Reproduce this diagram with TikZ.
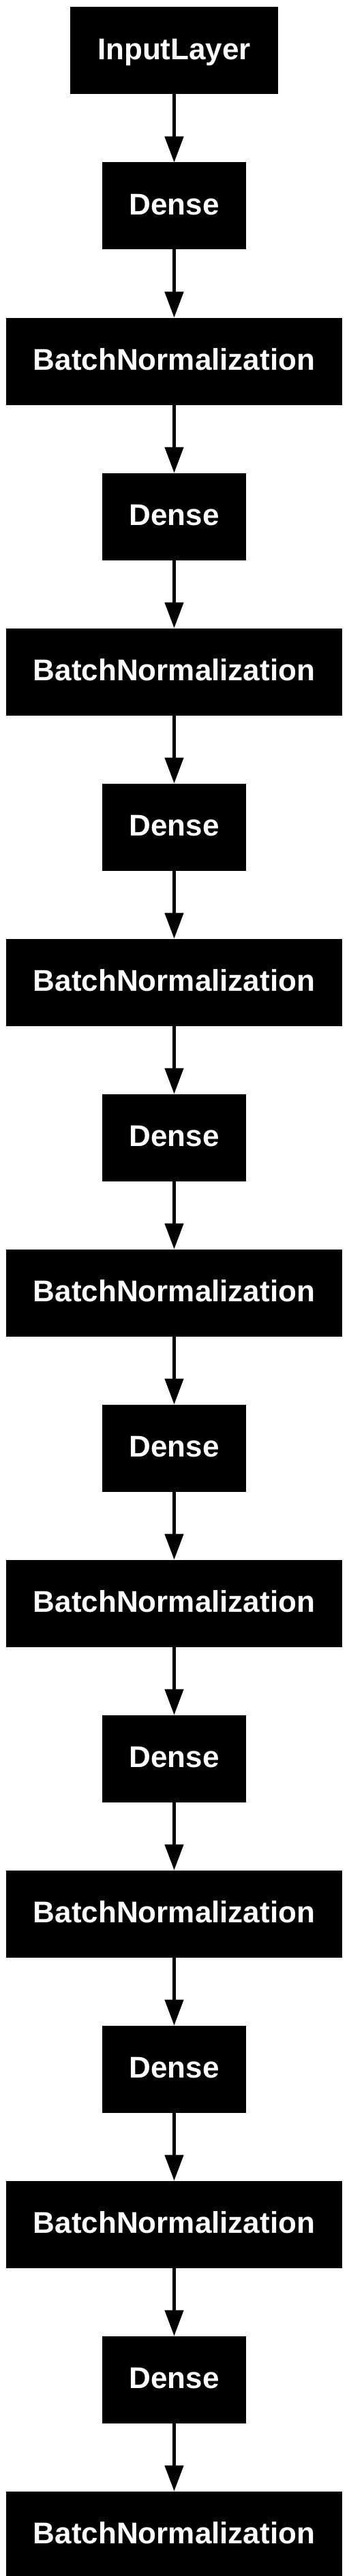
\documentclass[tikz,border=0pt]{standalone}
\usepackage{fontspec}
\setmainfont{Liberation Sans}
\usepackage{tikz}
\usetikzlibrary{positioning,arrows.meta}

\tikzset{
  layer/.style={draw=black,fill=black,text=white,inner sep=0pt,line width=0.5pt,
    minimum height=63.5pt,text height=15.75pt,text depth=2.5pt,
    font=\bfseries\fontsize{22pt}{26pt}\selectfont},
  flow/.style={line width=2.4pt,-{Triangle[length=19pt,width=13.5pt]}}
}

\begin{document}
\begin{tikzpicture}[node distance=50pt]
\useasboundingbox (-127.75pt,37.25pt) rectangle (127.75pt,-1854.25pt);
\node[layer,minimum width=151.5pt] (input) at (0,0) {InputLayer};
\node[layer,minimum width=104.5pt,below=of input] (dense1) {Dense};
\node[layer,minimum width=245.5pt,below=of dense1] (bn1) {BatchNormalization};
\node[layer,minimum width=104.5pt,below=of bn1] (dense2) {Dense};
\node[layer,minimum width=245.5pt,below=of dense2] (bn2) {BatchNormalization};
\node[layer,minimum width=104.5pt,below=of bn2] (dense3) {Dense};
\node[layer,minimum width=245.5pt,below=of dense3] (bn3) {BatchNormalization};
\node[layer,minimum width=104.5pt,below=of bn3] (dense4) {Dense};
\node[layer,minimum width=245.5pt,below=of dense4] (bn4) {BatchNormalization};
\node[layer,minimum width=104.5pt,below=of bn4] (dense5) {Dense};
\node[layer,minimum width=245.5pt,below=of dense5] (bn5) {BatchNormalization};
\node[layer,minimum width=104.5pt,below=of bn5] (dense6) {Dense};
\node[layer,minimum width=245.5pt,below=of dense6] (bn6) {BatchNormalization};
\node[layer,minimum width=104.5pt,below=of bn6] (dense7) {Dense};
\node[layer,minimum width=245.5pt,below=of dense7] (bn7) {BatchNormalization};
\node[layer,minimum width=104.5pt,below=of bn7] (dense8) {Dense};
\node[layer,minimum width=245.5pt,below=of dense8] (bn8) {BatchNormalization};
\draw[flow] (input) -- (dense1);
\draw[flow] (dense1) -- (bn1);
\draw[flow] (bn1) -- (dense2);
\draw[flow] (dense2) -- (bn2);
\draw[flow] (bn2) -- (dense3);
\draw[flow] (dense3) -- (bn3);
\draw[flow] (bn3) -- (dense4);
\draw[flow] (dense4) -- (bn4);
\draw[flow] (bn4) -- (dense5);
\draw[flow] (dense5) -- (bn5);
\draw[flow] (bn5) -- (dense6);
\draw[flow] (dense6) -- (bn6);
\draw[flow] (bn6) -- (dense7);
\draw[flow] (dense7) -- (bn7);
\draw[flow] (bn7) -- (dense8);
\draw[flow] (dense8) -- (bn8);
\end{tikzpicture}
\end{document}
